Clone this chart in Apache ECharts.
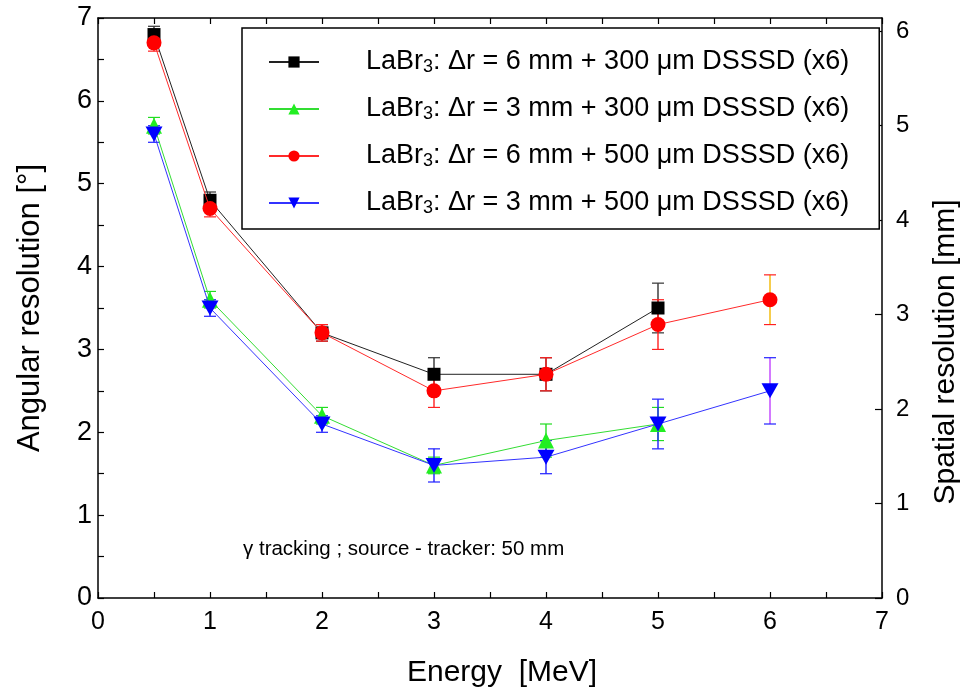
<!DOCTYPE html>
<html>
<head>
<meta charset="utf-8">
<script src="https://cdn.jsdelivr.net/npm/echarts@6/dist/echarts.min.js"></script>
<style>
  html, body { margin: 0; padding: 0; background: #fff; }
  #chart { width: 967px; height: 695px; }
</style>
</head>
<body>
<div id="chart"></div>
<script>
// Gamma-ray tracking: angular resolution vs. energy for four detector set-ups
const energies300 = [0.5, 1, 2, 3, 4, 5];
const energies500 = [0.5, 1, 2, 3, 4, 5, 6];

const names = [
  'LaBr3: Δr = 6 mm + 300 μm DSSSD (x6)',
  'LaBr3: Δr = 3 mm + 300 μm DSSSD (x6)',
  'LaBr3: Δr = 6 mm + 500 μm DSSSD (x6)',
  'LaBr3: Δr = 3 mm + 500 μm DSSSD (x6)'
];

// angular resolution [deg] and its uncertainty
const res6mm300 = [6.8, 4.8, 3.2, 2.7, 2.7, 3.5];
const err6mm300 = [0.1, 0.1, 0.1, 0.2, 0.2, 0.3];
const res3mm300 = [5.7, 3.6, 2.2, 1.6, 1.9, 2.1];
const err3mm300 = [0.1, 0.1, 0.1, 0.1, 0.2, 0.2];
const res6mm500 = [6.7, 4.7, 3.2, 2.5, 2.7, 3.3, 3.6];
const err6mm500 = [0.1, 0.1, 0.1, 0.2, 0.2, 0.3, 0.3];
const res3mm500 = [5.6, 3.5, 2.1, 1.6, 1.7, 2.1, 2.5];
const err3mm500 = [0.1, 0.1, 0.1, 0.2, 0.2, 0.3, 0.4];

const xTicks = [0, 1, 2, 3, 4, 5, 6, 7];
const leftTicks = [0, 1, 2, 3, 4, 5, 6, 7];
const rightTicks = [0, 1, 2, 3, 4, 5, 6];

// spatial resolution at the source plane: 50 mm source-tracker distance
const sourceTrackerMm = 50;
const rightMax = sourceTrackerMm * Math.tan(leftTicks[leftTicks.length - 1] * Math.PI / 180);

const FONT = '"Liberation Sans", Arial, sans-serif';

// stem colours of individual error bars that differ from their series colour
const stemColorOverride = {
  err2: { 6: '#f2b800' },
  err3: { 6: '#c040ff' }
};

const pairs = (xs, ys) => xs.map((x, i) => [x, ys[i]]);
const errTriples = (xs, ys, es) => xs.map((x, i) => [x, ys[i], es[i]]);

function errorSeries(name, triples, color, z) {
  const overrides = stemColorOverride[name] || {};
  return {
    type: 'custom',
    name: name,
    z: z,
    silent: true,
    data: triples,
    renderItem: function (params, api) {
      const x = api.value(0), y = api.value(1), e = api.value(2);
      const lo = api.coord([x, y - e]);
      const hi = api.coord([x, y + e]);
      const cap = 6;
      const st = { stroke: color, lineWidth: 1.2 };
      const stem = { stroke: overrides[x] || color, lineWidth: 1.4 };
      return {
        type: 'group',
        children: [
          { type: 'line', shape: { x1: lo[0], y1: lo[1], x2: hi[0], y2: hi[1] }, style: stem },
          { type: 'line', shape: { x1: lo[0] - cap, y1: lo[1], x2: lo[0] + cap, y2: lo[1] }, style: st },
          { type: 'line', shape: { x1: hi[0] - cap, y1: hi[1], x2: hi[0] + cap, y2: hi[1] }, style: st }
        ]
      };
    }
  };
}

function lineSeries(name, data, symbol, size, color, lineColor, z) {
  return {
    type: 'line',
    name: name,
    data: data,
    z: z,
    symbol: symbol,
    symbolSize: size,
    showAllSymbol: true,
    itemStyle: { color: color, opacity: 1 },
    lineStyle: { color: lineColor, width: 1 },
    emphasis: { disabled: true }
  };
}

const downTriangle = 'path://M0,0 L20,0 L10,17 Z';

const axisLine = { show: true, onZero: false, lineStyle: { color: '#000', width: 1.5 } };
const tick = { show: true, inside: true, length: 6, lineStyle: { color: '#000', width: 1.2 } };
const minor = { show: true, splitNumber: 2, length: 6, lineStyle: { color: '#000', width: 1.2 } };

const chart = echarts.init(document.getElementById('chart'), null, { renderer: 'canvas' });
chart.setOption({
  animation: false,
  backgroundColor: '#fff',
  textStyle: { fontFamily: FONT },
  grid: { left: 98, right: 85, top: 18, bottom: 97, containLabel: false },
  xAxis: [
    {
      type: 'value', min: xTicks[0], max: xTicks[xTicks.length - 1], interval: 1,
      position: 'bottom',
      name: 'Energy  [MeV]', nameLocation: 'middle', nameGap: 60,
      nameTextStyle: { fontSize: 30, color: '#000', fontFamily: FONT, padding: [0, 0, 0, 24] },
      axisLine: axisLine, axisTick: tick, minorTick: minor,
      axisLabel: { fontSize: 25, color: '#000', margin: 12, fontFamily: FONT },
      splitLine: { show: false }
    },
    {
      type: 'value', min: xTicks[0], max: xTicks[xTicks.length - 1], interval: 1,
      position: 'top',
      axisLine: axisLine, axisTick: tick, minorTick: minor,
      axisLabel: { show: false },
      splitLine: { show: false }
    }
  ],
  yAxis: [
    {
      type: 'value', min: leftTicks[0], max: leftTicks[leftTicks.length - 1], interval: 1,
      position: 'left',
      name: 'Angular resolution [°]', nameLocation: 'middle', nameGap: 52,
      nameTextStyle: { fontSize: 31, color: '#000', fontFamily: FONT },
      axisLine: axisLine, axisTick: tick, minorTick: minor,
      axisLabel: { fontSize: 27, color: '#000', margin: 6, fontFamily: FONT },
      splitLine: { show: false }
    },
    {
      type: 'value', min: rightTicks[0], max: rightMax, interval: 1,
      position: 'right',
      axisLine: axisLine,
      axisTick: { show: true, inside: true, length: 7, lineStyle: { color: '#000', width: 1.2 } },
      axisLabel: {
        fontSize: 24, color: '#000', margin: 14, fontFamily: FONT, showMaxLabel: false,
        formatter: function (v) { return rightTicks.indexOf(v) >= 0 ? String(v) : ''; }
      },
      splitLine: { show: false }
    }
  ],
  legend: {
    data: names,
    orient: 'vertical',
    left: 242, top: 28,
    padding: [20, 30, 12, 26],
    itemGap: 19,
    itemWidth: 50, itemHeight: 14,
    backgroundColor: '#fff',
    borderColor: '#000', borderWidth: 1.5,
    selectedMode: false,
    formatter: function (n) { return n.replace('LaBr3', 'LaBr{sub|3}'); },
    textStyle: {
      fontSize: 27, color: '#000', fontFamily: FONT, lineHeight: 28,
      padding: [0, 0, 0, 42],
      rich: { sub: { fontSize: 18, verticalAlign: 'bottom', lineHeight: 18, padding: [8, 0, 0, 0] } }
    }
  },
  graphic: [
    {
      type: 'text', left: 243, top: 539,
      style: { text: 'γ tracking ; source - tracker: 50 mm', fontSize: 20.5, fill: '#000', fontFamily: FONT }
    },
    {
      type: 'text', x: 946, y: 352, rotation: Math.PI / 2,
      style: {
        text: 'Spatial resolution [mm]', fontSize: 30, fill: '#000', fontFamily: FONT,
        align: 'center', verticalAlign: 'middle'
      }
    }
  ],
  series: [
    errorSeries('err0', errTriples(energies300, res6mm300, err6mm300), '#333', 2),
    errorSeries('err1', errTriples(energies300, res3mm300, err3mm300), '#22dd22', 2),
    errorSeries('err2', errTriples(energies500, res6mm500, err6mm500), '#ff2020', 2),
    errorSeries('err3', errTriples(energies500, res3mm500, err3mm500), '#2020ff', 2),
    lineSeries(names[0], pairs(energies300, res6mm300), 'rect', 13, '#000', '#222', 3),
    lineSeries(names[1], pairs(energies300, res3mm300), 'triangle', 16, '#22ee22', '#33dd33', 4),
    lineSeries(names[2], pairs(energies500, res6mm500), 'circle', 15, '#ff0000', '#ff2a2a', 5),
    lineSeries(names[3], pairs(energies500, res3mm500), downTriangle, [17, 15], '#0000ff', '#3333ff', 6)
  ]
});
</script>
</body>
</html>
